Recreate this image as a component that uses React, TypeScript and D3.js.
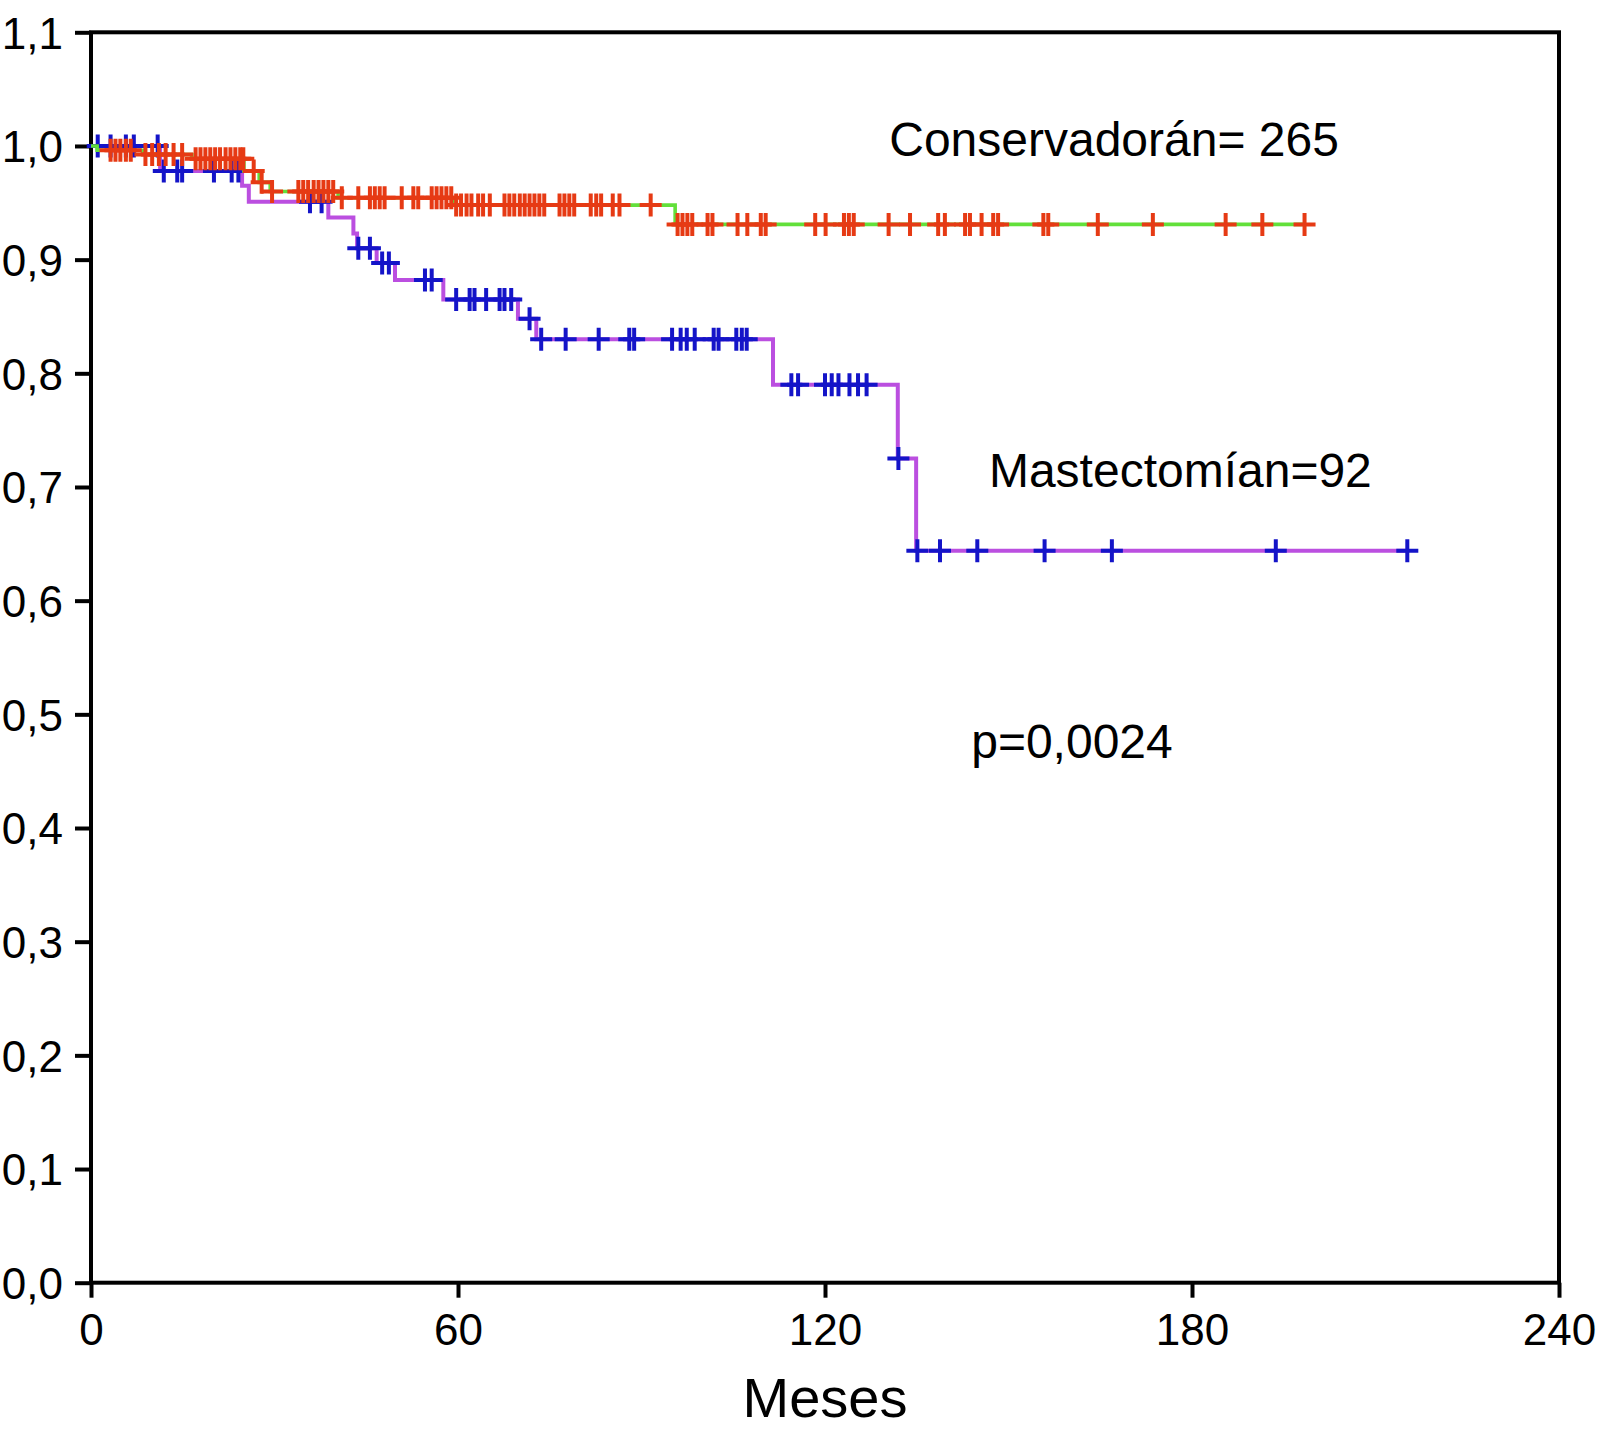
import * as d3 from 'd3';
import React, { useEffect, useRef } from 'react';

// Conservador: event times (months) and survival after each event
const consTimes = [0, 1.0, 8.4, 16.5, 25.0, 27.5, 29.3, 40.4, 59.2, 95.5];
const consSurv = [1, 0.9962, 0.9925, 0.9887, 0.978, 0.968, 0.96, 0.9545, 0.948, 0.931];
const consCensor = [
  3.2, 4.0, 4.8, 5.7, 6.5, 8.9, 10.0, 11.1, 12.2, 13.5, 14.9, 17.1, 17.9, 18.7, 19.5, 20.3, 21.1,
  22.0, 22.8, 23.6, 24.4, 24.9, 26.6, 27.9, 29.6, 33.9, 34.7, 35.5, 36.4, 37.2, 38.0, 38.8, 39.6,
  41.0, 43.7, 45.6, 46.4, 47.2, 48.0, 50.8, 52.7, 53.5, 55.7, 56.5, 57.3, 58.1, 58.9, 59.7, 60.5,
  61.4, 62.2, 63.3, 64.1, 65.2, 67.6, 68.4, 69.2, 70.1, 70.9, 71.7, 72.5, 73.3, 74.1, 76.6, 77.4,
  78.2, 79.0, 81.7, 82.6, 83.4, 85.3, 86.4, 91.5, 95.9, 96.7, 97.5, 98.3, 100.8, 101.6, 105.7,
  107.3, 109.5, 110.3, 118.4, 120.1, 123.1, 123.9, 124.7, 130.4, 133.9, 138.5, 139.6, 142.9, 143.7,
  145.6, 147.5, 148.3, 155.7, 156.5, 164.6, 173.6, 185.5, 191.5, 198.4,
];

// Mastectomia
const mastTimes = [0, 11.3, 24.7, 25.8, 38.8, 42.9, 43.5, 46.7, 49.7, 57.6, 69.8, 72.8, 111.5, 131.9, 134.9];
const mastSurv = [1, 0.978, 0.965, 0.951, 0.937, 0.923, 0.91, 0.897, 0.882, 0.865, 0.848, 0.83, 0.79, 0.725, 0.644];
const mastCensor = [
  1.1, 3.2, 5.7, 7.0, 10.9, 11.9, 14.1, 14.9, 20.1, 23.0, 24.1, 35.8, 37.7, 43.7, 45.6, 47.6, 48.7,
  54.6, 55.7, 59.7, 61.9, 62.7, 64.6, 66.8, 67.6, 68.7, 71.7, 73.6, 77.6, 83.0, 88.0, 88.8, 95.0,
  96.4, 97.4, 98.7, 101.8, 102.6, 105.5, 106.4, 107.2, 114.5, 115.6, 120.0, 121.1, 122.2, 124.0,
  125.4, 126.8, 132.0, 135.1, 138.8, 144.9, 155.9, 166.9, 193.7, 215.2,
];

const xTicks = [0, 60, 120, 180, 240];
const yTicks = [0, 0.1, 0.2, 0.3, 0.4, 0.5, 0.6, 0.7, 0.8, 0.9, 1.0, 1.1];

const labels = [
  { text: 'Conservadorán= 265', month: 130.5, value: 0.991 },
  { text: 'Mastectomían=92', month: 146.8, value: 0.7 },
  { text: 'p=0,0024', month: 143.9, value: 0.462 },
];

const W = 1604;
const H = 1431;
const FONT = '"Liberation Sans", Arial, Helvetica, sans-serif';

const es = d3.formatLocale({ decimal: ',', thousands: '.', grouping: [3], currency: ['', ''] });

const App: React.FC = () => {
  const svgRef = useRef<SVGSVGElement | null>(null);

  useEffect(() => {
    if (!svgRef.current) return;
    const margin = { top: 32.3, right: 45, bottom: 148.3, left: 91 };
    const width = W - margin.left - margin.right;
    const height = H - margin.top - margin.bottom;

    const svg = d3.select(svgRef.current);
    svg.selectAll('*').remove();

    const x = d3.scaleLinear().domain([0, 240]).range([0, width]);
    const y = d3.scaleLinear().domain([0, 1.1]).range([height, 0]);

    const g = svg.append('g').attr('transform', `translate(${margin.left},${margin.top})`);

    // frame
    g.append('rect')
      .attr('x', 0).attr('y', 0).attr('width', width).attr('height', height)
      .attr('fill', 'none').attr('stroke', '#000').attr('stroke-width', 4);

    const yAxis = g.append('g')
      .call(d3.axisLeft(y).tickValues(yTicks).tickSize(16).tickSizeOuter(0).tickFormat(es.format('.1f')));
    yAxis.select('.domain').remove();
    yAxis.selectAll('line').attr('stroke-width', 4);
    yAxis.selectAll('text')
      .attr('x', -28).attr('dy', '0.36em')
      .style('font-family', FONT).style('font-size', '44px').attr('fill', '#000');

    const xAxis = g.append('g').attr('transform', `translate(0,${height})`)
      .call(d3.axisBottom(x).tickValues(xTicks).tickSize(15).tickSizeOuter(0));
    xAxis.select('.domain').remove();
    xAxis.selectAll('line').attr('stroke-width', 4);
    xAxis.selectAll('text')
      .attr('y', 31).attr('dy', '0.71em')
      .style('font-family', FONT).style('font-size', '44px').attr('fill', '#000');

    g.append('text')
      .attr('x', width / 2).attr('y', height + 134)
      .attr('text-anchor', 'middle')
      .style('font-family', FONT).style('font-size', '56px')
      .text('Meses');

    const drawCurve = (
      times: number[], surv: number[], censor: number[],
      lineColor: string, lineWidth: number, markColor: string,
    ) => {
      const pts = times.map((t, i) => ({ t, s: surv[i] }));
      const end = d3.max(censor)!;
      pts.push({ t: end, s: surv[surv.length - 1] });
      const line = d3.line<{ t: number; s: number }>()
        .x((d) => x(d.t)).y((d) => y(d.s))
        .curve(d3.curveStepAfter);
      g.append('path')
        .attr('d', line(pts))
        .attr('fill', 'none').attr('stroke', lineColor).attr('stroke-width', lineWidth);

      const bis = d3.bisector((d: number) => d).right;
      const sAt = (t: number) => surv[Math.max(0, bis(times, t) - 1)];
      g.append('g').selectAll('path')
        .data(censor)
        .enter()
        .append('path')
        .attr('d', (t) => {
          const cx = x(t);
          const cy = y(sAt(t));
          return `M${cx - 11},${cy}h22M${cx},${cy - 11.5}v23`;
        })
        .attr('fill', 'none').attr('stroke', markColor).attr('stroke-width', 4);
    };

    drawCurve(mastTimes, mastSurv, mastCensor, '#bb4fe0', 4, '#1414c8');
    drawCurve(consTimes, consSurv, consCensor, '#62e03a', 3.6, '#e63a14');

    g.append('g').selectAll('text')
      .data(labels)
      .enter()
      .append('text')
      .attr('x', (d) => x(d.month))
      .attr('y', (d) => y(d.value))
      .style('font-family', FONT).style('font-size', '48px')
      .text((d) => d.text);
  }, []);

  return (
    <svg ref={svgRef} width={W} height={H} style={{ position: 'absolute', left: 0, top: 0, background: '#fff' }} />
  );
};

export default App;
